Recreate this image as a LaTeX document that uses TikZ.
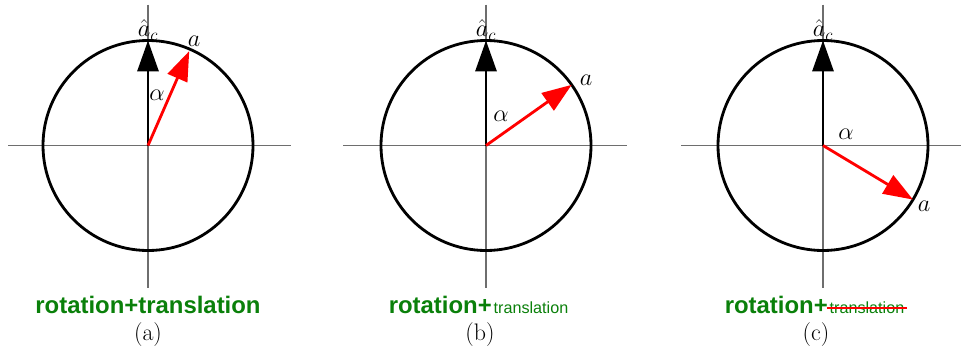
\documentclass[tikz,border=0pt]{standalone}
\usepackage{fontspec}
\setsansfont{Liberation Sans}
\usetikzlibrary{arrows.meta,positioning,calc}
\definecolor{axisgrey}{HTML}{6E6E6E}
\definecolor{tagreen}{HTML}{0A800A}
\definecolor{vecred}{HTML}{FF0000}

\begin{document}
\begin{tikzpicture}[x=0.025cm,y=0.025cm,
 axis/.style={draw=axisgrey,line width=0.9pt},
 rim/.style={draw=black,line width=2pt},
 refvec/.style={draw=black,line width=2pt,-{Triangle[length=22pt,width=15pt]}},
 rotvec/.style={draw=vecred,line width=2pt,-{Triangle[length=21pt,width=15pt]}},
 mlabel/.style={font=\fontsize{17}{19}\selectfont,inner sep=0pt},
 boldtag/.style={font=\sffamily\bfseries\fontsize{17}{20}\selectfont,text=tagreen,inner sep=0pt},
 smalltag/.style={font=\sffamily\fontsize{11.5}{14}\selectfont,text=tagreen,inner sep=0pt},
 strike/.style={draw=vecred,line width=1.4pt,shorten <=-2pt,shorten >=-2pt},
 caption/.style={font=\fontsize{17}{20}\selectfont,inner sep=0pt}]
\useasboundingbox (0,0) rectangle (961,358);
% centres, top of circle and tips of a
\coordinate (oa) at (148,212.5);
\coordinate (ob) at (486,212.5);
\coordinate (oc) at (823,212.5);
\coordinate (topa) at ($(oa)+(0,105)$);
\coordinate (topb) at ($(ob)+(0,105)$);
\coordinate (topc) at ($(oc)+(0,105)$);
\coordinate (tipa) at ($(oa)+(66.4:103)$);
\coordinate (tipb) at ($(ob)+(35.3:105)$);
\coordinate (tipc) at ($(oc)+(-31:105)$);
% (a)
\draw[axis] ($(oa)+(-140,0)$) -- ($(oa)+(143,0)$);
\draw[axis] ($(oa)+(0,141)$) -- ($(oa)+(0,-142)$);
\draw[rim] (oa) circle[radius=105];
\draw[refvec] (oa) -- (topa);
\draw[rotvec] (oa) -- (tipa);
\node[mlabel,anchor=south] (hata) at (topa) {$\hat{a}_c$};
\node[mlabel] (aa) at (194,317) {$a$};
\node[mlabel] (alpa) at (157,263) {$\alpha$};
\node[boldtag,anchor=base] (taga) at (148,45) {rotation+translation};
\node[caption] (capa) at (148,23) {(a)};
% (b)
\draw[axis] ($(ob)+(-143,0)$) -- ($(ob)+(141,0)$);
\draw[axis] ($(ob)+(0,141)$) -- ($(ob)+(0,-142)$);
\draw[rim] (ob) circle[radius=105];
\draw[refvec] (ob) -- (topb);
\draw[rotvec] (ob) -- (tipb);
\node[mlabel,anchor=south] (hatb) at (topb) {$\hat{a}_c$};
\node[mlabel] (ab) at (586,278) {$a$};
\node[mlabel] (alpb) at (501,242) {$\alpha$};
\node[boldtag,anchor=base east] (rotb) at (492,45) {rotation+};
\node[smalltag,anchor=base west] (trb) at ([xshift=1pt]rotb.base east) {translation};
\node[caption] (capb) at (480,23) {(b)};
% (c)
\draw[axis] ($(oc)+(-142,0)$) -- ($(oc)+(142,0)$);
\draw[axis] ($(oc)+(0,141)$) -- ($(oc)+(0,-142)$);
\draw[rim] (oc) circle[radius=105];
\draw[refvec] (oc) -- (topc);
\draw[rotvec] (oc) -- (tipc);
\node[mlabel,anchor=south] (hatc) at (topc) {$\hat{a}_c$};
\node[mlabel] (ac) at (924,152) {$a$};
\node[mlabel] (alpc) at (846,224) {$\alpha$};
\node[boldtag,anchor=base east] (rotc) at (828,45) {rotation+};
\node[smalltag,anchor=base west] (trc) at ([xshift=1pt]rotc.base east) {translation};
\draw[strike] ([yshift=3.3pt]trc.base west) -- ([yshift=3.3pt]trc.base east);
\node[caption] (capc) at (816,23) {(c)};
\end{tikzpicture}
\end{document}
